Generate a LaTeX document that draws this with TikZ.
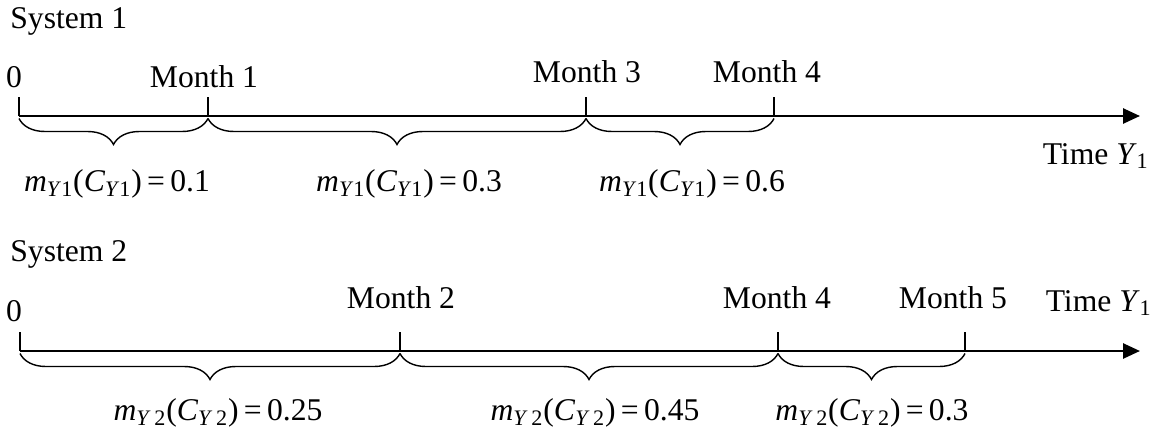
\documentclass[tikz,border=0pt]{standalone}
\usepackage{fontspec}
\setmainfont{Liberation Serif}
\usepackage{tikz}
\usetikzlibrary{arrows.meta, positioning, decorations.pathreplacing}
\definecolor{mydark}{RGB}{0,0,0}
\newcommand{\massval}[2]{\textit{m}\textsubscript{\textit{Y}#1}(\textit{C}\textsubscript{\textit{Y}#1})\,=\,#2}
\tikzset{
  axis/.style={-{Triangle[length=0.34cm,width=0.3cm]}, line width=1.5pt, color=mydark},
  monthtick/.style={line width=0.8pt, color=mydark},
  brc/.style={decorate, decoration={brace, mirror, amplitude=0.52cm, raise=0.05cm},
    line width=0.8pt, color=mydark},
  lbl/.style={font=\fontsize{18}{21}\selectfont, inner sep=0pt, color=mydark}
}
\begin{document}
\begin{tikzpicture}
  \useasboundingbox (0,0) rectangle (23.24,-8.66);
  % System 1
  \node[lbl, anchor=west] (sys1) at (0.2,-0.42) {System 1};
  \coordinate (t10) at (0.38,-2.32);
  \coordinate (t11) at (4.16,-2.32);
  \coordinate (t13) at (11.72,-2.32);
  \coordinate (t14) at (15.48,-2.32);
  \coordinate (end1) at (22.8,-2.32);
  \draw[axis] (t10) -- (end1);
  \foreach \t in {t10,t11,t13,t14}
    \draw[monthtick] (\t) -- ++(0,0.38);
  \node[lbl] (zero1) at (0.28,-1.54) {0};
  \node[lbl] (m11) at (4.08,-1.54) {Month 1};
  \node[lbl] (m13) at (11.74,-1.44) {Month 3};
  \node[lbl] (m14) at (15.34,-1.44) {Month 4};
  \node[lbl, anchor=east] (time1) at (22.98,-3.12) {Time \textit{Y}\textsubscript{1}};
  % braces and masses
  \draw[brc] (t10) -- (t11);
  \draw[brc] (t11) -- (t13);
  \draw[brc] (t13) -- (t14);
  \node[lbl] (ma1) at (2.34,-3.68) {\massval{1}{0.1}};
  \node[lbl] (mb1) at (8.18,-3.68) {\massval{1}{0.3}};
  \node[lbl] (mc1) at (13.84,-3.68) {\massval{1}{0.6}};
  % System 2
  \node[lbl, anchor=west] (sys2) at (0.2,-5.08) {System 2};
  \coordinate (t20) at (0.4,-7.02);
  \coordinate (t22) at (8.0,-7.02);
  \coordinate (t24) at (15.56,-7.02);
  \coordinate (t25) at (19.3,-7.02);
  \coordinate (end2) at (22.8,-7.02);
  \draw[axis] (t20) -- (end2);
  \foreach \t in {t20,t22,t24,t25}
    \draw[monthtick] (\t) -- ++(0,0.38);
  \node[lbl] (zero2) at (0.28,-6.22) {0};
  \node[lbl] (m22) at (8.02,-5.96) {Month 2};
  \node[lbl] (m24) at (15.54,-5.96) {Month 4};
  \node[lbl] (m25) at (19.06,-5.96) {Month 5};
  \node[lbl, anchor=east] (time2) at (23.04,-6.06) {Time \textit{Y}\textsubscript{1}};
  % braces and masses
  \draw[brc] (t20) -- (t22);
  \draw[brc] (t22) -- (t24);
  \draw[brc] (t24) -- (t25);
  \node[lbl] (ma2) at (4.36,-8.26) {\massval{\,2}{0.25}};
  \node[lbl] (mb2) at (11.9,-8.26) {\massval{\,2}{0.45}};
  \node[lbl] (mc2) at (17.44,-8.26) {\massval{\,2}{0.3}};
\end{tikzpicture}
\end{document}
